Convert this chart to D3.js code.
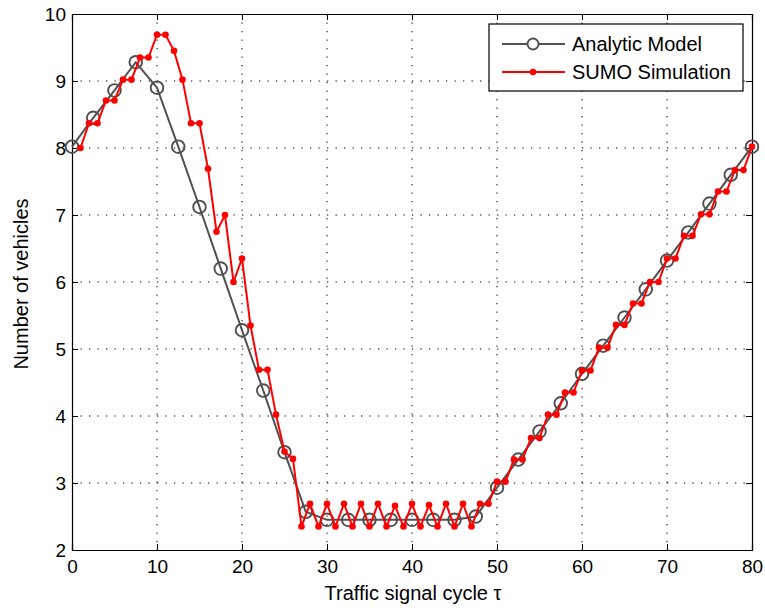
<!DOCTYPE html>
<html>
<head>
<meta charset="utf-8">
<script src="https://cdn.jsdelivr.net/npm/d3@7"></script>
<style>
  body { margin: 0; background: #fff; }
  text { font-family: "Liberation Sans", Arial, sans-serif; fill: #000; }
</style>
</head>
<body>
<div id="chart"></div>
<script>
// chart data
const analyticX = [0, 2.5, 5, 7.5, 10, 12.5, 15, 17.5, 20, 22.5, 25, 27.5, 30, 32.5, 35, 37.5, 40,
    42.5, 45, 47.5, 50, 52.5, 55, 57.5, 60, 62.5, 65, 67.5, 70, 72.5, 75, 77.5, 80];
const analyticY = [8.02, 8.45, 8.86, 9.28, 8.9, 8.02, 7.12, 6.2, 5.28, 4.38, 3.46, 2.57, 2.45, 2.45, 2.45, 2.45, 2.45,
    2.45, 2.45, 2.5, 2.93, 3.35, 3.77, 4.19, 4.63, 5.05, 5.47, 5.89, 6.32, 6.74, 7.17, 7.6, 8.02];

const sumoX = [1, 2, 3, 4, 5, 6, 7, 8, 9, 10, 11, 12, 13, 14, 15, 16, 17, 18, 19, 20,
    21, 22, 23, 24, 25, 26, 27, 28, 29, 30, 31, 32, 33, 34, 35, 36, 37, 38, 39, 40,
    41, 42, 43, 44, 45, 46, 47, 48, 49, 50, 51, 52, 53, 54, 55, 56, 57, 58, 59, 60,
    61, 62, 63, 64, 65, 66, 67, 68, 69, 70, 71, 72, 73, 74, 75, 76, 77, 78, 79, 80];
const sumoY = [8.0, 8.37, 8.37, 8.71, 8.71, 9.02, 9.02, 9.35, 9.35, 9.69, 9.69, 9.45, 9.02, 8.37, 8.37, 7.69, 6.75, 7.0, 6.0, 6.35,
    5.35, 4.69, 4.69, 4.02, 3.47, 3.36, 2.35, 2.69, 2.35, 2.69, 2.35, 2.69, 2.35, 2.69, 2.35, 2.69, 2.35, 2.66, 2.35, 2.69,
    2.35, 2.67, 2.35, 2.69, 2.35, 2.69, 2.35, 2.69, 2.69, 3.02, 3.02, 3.35, 3.35, 3.67, 3.67, 4.02, 4.02, 4.35, 4.35, 4.68,
    4.68, 5.02, 5.02, 5.36, 5.36, 5.68, 5.68, 6.0, 6.0, 6.35, 6.35, 6.69, 6.69, 7.01, 7.01, 7.35, 7.35, 7.67, 7.67, 8.02];

const xTicks = [0, 10, 20, 30, 40, 50, 60, 70, 80];
const yTicks = [2, 3, 4, 5, 6, 7, 8, 9, 10];
const seriesNames = ["Analytic Model", "SUMO Simulation"];

const W = 765, H = 610;
const margin = {top: 14, right: 13, bottom: 60, left: 72};
const width = W - margin.left - margin.right;
const height = H - margin.top - margin.bottom;
const grayCol = "#505050", redCol = "#ff0000";

let svg = d3.select("#chart").append("svg")
    .attr("width", W)
    .attr("height", H);
let g = svg.append("g")
    .attr("transform", `translate(${margin.left}, ${margin.top})`);

let x = d3.scaleLinear().domain([0, 80]).range([0, width]);
let y = d3.scaleLinear().domain([2, 10]).range([height, 0]);

// dotted grid
g.append("g").selectAll("line").data(xTicks.slice(1, -1)).enter().append("line")
    .attr("x1", d => x(d)).attr("x2", d => x(d))
    .attr("y1", 0).attr("y2", height)
    .attr("stroke", "#000").attr("stroke-width", 1)
    .attr("stroke-dasharray", "1.3,7.2");
g.append("g").selectAll("line").data(yTicks.slice(1, -1)).enter().append("line")
    .attr("y1", d => y(d)).attr("y2", d => y(d))
    .attr("x1", 0).attr("x2", width)
    .attr("stroke", "#000").attr("stroke-width", 1)
    .attr("stroke-dasharray", "1.3,7.2");

// axes with inward ticks on all four sides
const tl = 6;
g.append("g").attr("transform", `translate(0, ${height})`)
    .call(d3.axisBottom(x).tickValues(xTicks).tickSize(-tl).tickPadding(10).tickFormat(d3.format("d")));
g.append("g").call(d3.axisTop(x).tickValues(xTicks).tickSize(-tl).tickFormat(""));
g.append("g")
    .call(d3.axisLeft(y).tickValues(yTicks).tickSize(-tl).tickPadding(6).tickFormat(d3.format("d")));
g.append("g").attr("transform", `translate(${width}, 0)`)
    .call(d3.axisRight(y).tickValues(yTicks).tickSize(-tl).tickFormat(""));
g.selectAll(".domain").attr("stroke", "#000").attr("stroke-width", 1.2);
g.selectAll(".tick line").attr("stroke", "#000");
g.selectAll(".tick text").style("font-size", "19px").style("font-family", "Liberation Sans, Arial, sans-serif");

// analytic model
let analytic = analyticX.map((d, i) => ({x: d, y: analyticY[i]}));
let sumo = sumoX.map((d, i) => ({x: d, y: sumoY[i]}));
let line = d3.line().x(d => x(d.x)).y(d => y(d.y));

g.append("path").datum(analytic)
    .attr("d", line).attr("fill", "none")
    .attr("stroke", grayCol).attr("stroke-width", 2);
g.append("g").selectAll("circle").data(analytic).enter().append("circle")
    .attr("cx", d => x(d.x)).attr("cy", d => y(d.y)).attr("r", 6.3)
    .attr("fill", "none").attr("stroke", grayCol).attr("stroke-width", 1.9);

// sumo simulation
g.append("path").datum(sumo)
    .attr("d", line).attr("fill", "none")
    .attr("stroke", redCol).attr("stroke-width", 2);
g.append("g").selectAll("circle").data(sumo).enter().append("circle")
    .attr("cx", d => x(d.x)).attr("cy", d => y(d.y)).attr("r", 3.3)
    .attr("fill", redCol);

// axis labels
svg.append("text")
    .attr("x", margin.left + width / 2 + 1).attr("y", 600)
    .style("text-anchor", "middle").style("font-size", "20px")
    .text("Traffic signal cycle \u03c4");
svg.append("text")
    .attr("transform", `translate(28, ${margin.top + height / 2 + 2}) rotate(-90)`)
    .style("text-anchor", "middle").style("font-size", "20px")
    .text("Number of vehicles");

// legend
let leg = svg.append("g").attr("transform", "translate(489, 24)");
leg.append("rect").attr("width", 254).attr("height", 67)
    .attr("fill", "#fff").attr("stroke", "#000").attr("stroke-width", 1.2);
[0, 1].forEach(i => {
    let cy = 20 + i * 28;
    let col = i === 0 ? grayCol : redCol;
    leg.append("line").attr("x1", 13).attr("x2", 76).attr("y1", cy).attr("y2", cy)
        .attr("stroke", col).attr("stroke-width", 2);
    if (i === 0) {
        leg.append("circle").attr("cx", 44).attr("cy", cy).attr("r", 5.5)
            .attr("fill", "#fff").attr("stroke", col).attr("stroke-width", 1.9);
    } else {
        leg.append("circle").attr("cx", 44).attr("cy", cy).attr("r", 3.3).attr("fill", col);
    }
    leg.append("text").attr("x", 83).attr("y", cy + 7)
        .style("font-size", "20px").text(seriesNames[i]);
});
</script>
</body>
</html>
